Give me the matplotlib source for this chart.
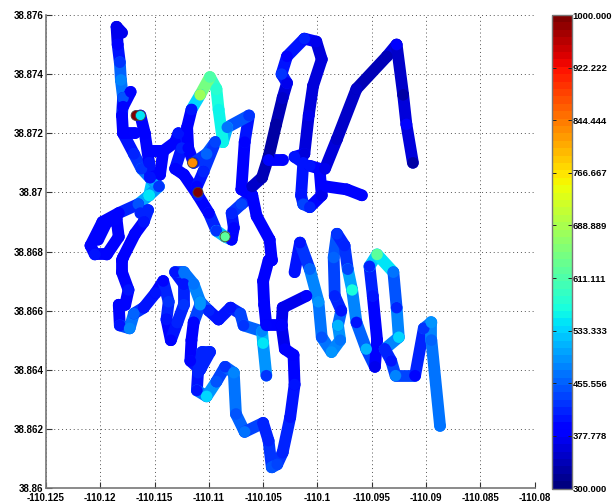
import matplotlib
matplotlib.use('Agg')
import matplotlib.pyplot as plt
from matplotlib.collections import LineCollection
from matplotlib.cm import ScalarMappable
from matplotlib.colors import Normalize
import numpy as np

plt.rcParams['font.family'] = ['Liberation Sans', 'DejaVu Sans']

# route from the top left, round the loop and down to the south branch
lon1 = [-110.1180, -110.1185, -110.1184, -110.1182, -110.1181, -110.1179, -110.1180, -110.1179, -110.1169, -110.1162, -110.1152, -110.1155, -110.1165, -110.1183, -110.1198, -110.1209, -110.1205, -110.1194, -110.1183, -110.1185, -110.1194, -110.1202]
lat1 = [38.8754, 38.8756, 38.8750, 38.8744, 38.8738, 38.8732, 38.8726, 38.8720, 38.8713, 38.8708, 38.8704, 38.8699, 38.8696, 38.8693, 38.8690, 38.8682, 38.8679, 38.8679, 38.8685, 38.8691, 38.8690, 38.8684]
val1 = [370, 370, 380, 430, 480, 450, 380, 380, 420, 430, 500, 545, 450, 390, 390, 390, 400, 390, 380, 390, 390, 390]

lon2 = [-110.1163, -110.1156, -110.1160, -110.1168, -110.1179, -110.1180, -110.1180, -110.1174, -110.1177, -110.1183, -110.1182, -110.1173, -110.1169, -110.1160, -110.1149, -110.1142, -110.1137, -110.1139, -110.1135, -110.1129, -110.1123, -110.1123, -110.1131, -110.1123, -110.1114, -110.1108, -110.1100, -110.1091, -110.1080, -110.1071, -110.1068, -110.1051, -110.1050, -110.1047]
lat2 = [38.8693, 38.8694, 38.8690, 38.8686, 38.8678, 38.8677, 38.8673, 38.8667, 38.8662, 38.8662, 38.8655, 38.8654, 38.8659, 38.8661, 38.8666, 38.8670, 38.8663, 38.8657, 38.8650, 38.8656, 38.8662, 38.8669, 38.8673, 38.8673, 38.8669, 38.8663, 38.8660, 38.8657, 38.8661, 38.8659, 38.8655, 38.8653, 38.8649, 38.8638]
val2 = [420, 420, 400, 390, 380, 380, 380, 400, 390, 390, 400, 480, 460, 400, 400, 390, 430, 400, 390, 410, 430, 400, 400, 470, 470, 490, 410, 400, 400, 440, 430, 480, 545, 430]

# middle section going to the bottom and back up to the east
lon3 = [-110.1108, -110.1114, -110.1116, -110.1117, -110.1108, -110.1099, -110.1106, -110.1110, -110.1111, -110.1102, -110.1093, -110.1085, -110.1077, -110.1075, -110.1067, -110.1050, -110.1045, -110.1042, -110.1037, -110.1032, -110.1025, -110.1021, -110.1022, -110.1030, -110.1033, -110.1032, -110.1010]
lat3 = [38.8662, 38.8656, 38.8650, 38.8643, 38.8640, 38.8646, 38.8646, 38.8639, 38.8633, 38.8631, 38.8636, 38.8641, 38.8639, 38.8625, 38.8619, 38.8622, 38.8616, 38.8607, 38.8608, 38.8612, 38.8624, 38.8635, 38.8645, 38.8647, 38.8655, 38.8661, 38.8665]
val3 = [490, 390, 380, 390, 410, 420, 420, 410, 400, 540, 450, 430, 480, 450, 470, 410, 410, 450, 440, 420, 400, 400, 380, 380, 370, 370, 380]

lon4 = [-110.1021, -110.1016, -110.1007, -110.0999, -110.0996, -110.0987, -110.0979, -110.0981, -110.0978, -110.0984, -110.0985, -110.0982, -110.0975, -110.0972, -110.0968, -110.0964, -110.0955, -110.0947, -110.0945, -110.0949, -110.0952, -110.0945, -110.0930, -110.0927, -110.0925, -110.0938, -110.0932, -110.0928, -110.0910, -110.0902, -110.0895, -110.0895, -110.0887]
lat4 = [38.8673, 38.8683, 38.8674, 38.8663, 38.8651, 38.8646, 38.8650, 38.8655, 38.8660, 38.8665, 38.8678, 38.8686, 38.8682, 38.8674, 38.8667, 38.8656, 38.8647, 38.8641, 38.8650, 38.8665, 38.8675, 38.8679, 38.8673, 38.8661, 38.8651, 38.8647, 38.8643, 38.8638, 38.8638, 38.8654, 38.8656, 38.8650, 38.8621]
val4 = [400, 400, 460, 490, 450, 490, 470, 510, 400, 420, 460, 430, 410, 440, 570, 400, 510, 370, 390, 400, 420, 620, 470, 420, 540, 420, 400, 480, 390, 430, 490, 460, 470]

# centre knot, the spike with the green top
lon5 = [-110.1159, -110.1155, -110.1154, -110.1145, -110.1142, -110.1155, -110.1142, -110.1131, -110.1128, -110.1125, -110.1131, -110.1123, -110.1110, -110.1100, -110.1093, -110.1085, -110.1079, -110.1077, -110.1079, -110.1070, -110.1060, -110.1070, -110.1067, -110.1063, -110.1083, -110.1087, -110.1091, -110.1093, -110.1099, -110.1108, -110.1116, -110.1120, -110.1119, -110.1114, -110.1102, -110.1094, -110.1105, -110.1111]
lat5 = [38.8720, 38.8710, 38.8705, 38.8706, 38.8714, 38.8714, 38.8714, 38.8717, 38.8720, 38.8715, 38.8708, 38.8706, 38.8699, 38.8693, 38.8687, 38.8685, 38.8684, 38.8688, 38.8693, 38.8696, 38.8699, 38.8701, 38.8717, 38.8726, 38.8722, 38.8717, 38.8728, 38.8735, 38.8739, 38.8733, 38.8728, 38.8722, 38.8715, 38.8710, 38.8713, 38.8717, 38.8707, 38.8702]
val5 = [380, 400, 400, 390, 390, 390, 390, 390, 400, 410, 390, 390, 400, 390, 430, 620, 390, 390, 420, 440, 390, 380, 380, 430, 470, 555, 560, 580, 610, 680, 400, 380, 390, 400, 460, 440, 410, 390]

lon6 = [-110.1060, -110.1056, -110.1044, -110.1042, -110.1045, -110.1050, -110.1049, -110.1047, -110.1033]
lat6 = [38.8699, 38.8692, 38.8684, 38.8677, 38.8677, 38.8670, 38.8662, 38.8655, 38.8655]
val6 = [390, 380, 380, 380, 380, 380, 390, 390, 380]

# north east loops
lon7 = [-110.1060, -110.1051, -110.1045, -110.1038, -110.1032, -110.1028, -110.1033, -110.1028, -110.1012, -110.1001, -110.0996, -110.1004, -110.1008, -110.1012, -110.1021, -110.1013, -110.1015, -110.1013, -110.1007, -110.0996, -110.0998, -110.1007]
lat7 = [38.8702, 38.8705, 38.8712, 38.8723, 38.8732, 38.8737, 38.8740, 38.8746, 38.8752, 38.8751, 38.8745, 38.8736, 38.8726, 38.8713, 38.8712, 38.8710, 38.8699, 38.8696, 38.8695, 38.8699, 38.8708, 38.8709]
val7 = [350, 340, 330, 330, 350, 370, 430, 380, 420, 370, 360, 360, 370, 360, 400, 400, 400, 440, 420, 370, 390, 400]

lon8 = [-110.0993, -110.0982, -110.0964, -110.0936, -110.0927, -110.0921, -110.0918, -110.0912]
lat8 = [38.8708, 38.8718, 38.8735, 38.8746, 38.8750, 38.8733, 38.8723, 38.8710]
val8 = [370, 350, 350, 335, 380, 325, 385, 325]

lon9 = [-110.0992, -110.0973, -110.0959]
lat9 = [38.8702, 38.8701, 38.8699]
val9 = [380, 390, 390]

lon10 = [-110.1045, -110.1032]
lat10 = [38.8711, 38.8711]
val10 = [390, 390]

lon11 = [-110.1172, -110.1179]
lat11 = [38.8734, 38.8729]
val11 = [390, 390]

lon12 = [-110.1179, -110.1168]
lat12 = [38.8720, 38.8720]
val12 = [380, 390]

lon13 = [-110.1154, -110.1146, -110.1155]
lat13 = [38.8705, 38.8702, 38.8699]
val13 = [400, 430, 545]

lon14 = [-110.1163, -110.1159]
lat14 = [38.8726, 38.8720]
val14 = [390, 380]

lons = [lon1, lon2, lon3, lon4, lon5, lon6, lon7, lon8, lon9, lon10, lon11, lon12, lon13, lon14]
lats = [lat1, lat2, lat3, lat4, lat5, lat6, lat7, lat8, lat9, lat10, lat11, lat12, lat13, lat14]
vals = [val1, val2, val3, val4, val5, val6, val7, val8, val9, val10, val11, val12, val13, val14]

# the few big readings sitting on top of the track
spot_lon = [-110.1167, -110.1163, -110.1115, -110.1110, -110.1085]
spot_lat = [38.8726, 38.8726, 38.8710, 38.8700, 38.8685]
spot_val = [1000, 545, 830, 990, 625]

xticks = [-110.125, -110.12, -110.115, -110.11, -110.105, -110.1, -110.095, -110.09, -110.085, -110.08]
xlabels = ['-110.125', '-110.12', '-110.115', '-110.11', '-110.105', '-110.1', '-110.095', '-110.09', '-110.085', '-110.08']
yticks = [38.86, 38.862, 38.864, 38.866, 38.868, 38.87, 38.872, 38.874, 38.876]
ylabels = ['38.86', '38.862', '38.864', '38.866', '38.868', '38.87', '38.872', '38.874', '38.876']
cticks = [300, 377.778, 455.556, 533.333, 611.111, 688.889, 766.667, 844.444, 922.222, 1000]

W, H = 613, 503
fig = plt.figure(figsize=(W / 100, H / 100), dpi=100)
ax = fig.add_axes([46 / W, (H - 488) / H, 488.5 / W, 473 / H])
cax = fig.add_axes([552 / W, (H - 488.5) / H, 20 / W, 473.5 / H])

cmap = plt.get_cmap('jet', 64)
norm = Normalize(300, 1000)

for xs, ys, vs in zip(lons, lats, vals):
    pts = np.column_stack([xs, ys])
    vs = np.array(vs, dtype=float)
    segs = np.stack([pts[:-1], pts[1:]], axis=1)
    lc = LineCollection(segs, cmap=cmap, norm=norm, linewidths=8.5, capstyle='round', joinstyle='round', zorder=3)
    lc.set_array((vs[:-1] + vs[1:]) / 2)
    ax.add_collection(lc)
    ax.scatter(xs, ys, c=vs, cmap=cmap, norm=norm, s=68, linewidths=0, zorder=4)

ax.scatter(spot_lon, spot_lat, c=spot_val, cmap=cmap, norm=norm, s=52, linewidths=0.6, edgecolors='#444444', zorder=5)

ax.set_xlim(-110.125, -110.08)
ax.set_ylim(38.86, 38.876)
ax.set_xticks(xticks)
ax.set_xticklabels(xlabels, fontsize=7, fontweight='bold')
ax.set_yticks(yticks)
ax.set_yticklabels(ylabels, fontsize=7, fontweight='bold')
ax.tick_params(direction='in', length=4, width=0.8, color='#333333', pad=2)
ax.tick_params(axis='x', pad=3.5)
ax.grid(True, linestyle=(0, (1, 3)), color='#555555', linewidth=0.7)
ax.set_axisbelow(True)
ax.spines['top'].set_visible(False)
ax.spines['right'].set_visible(False)
ax.spines['left'].set_color('#777777')
ax.spines['bottom'].set_color('#777777')
ax.spines['left'].set_linewidth(1.2)
ax.spines['bottom'].set_linewidth(1.2)

cb = fig.colorbar(ScalarMappable(norm=norm, cmap=cmap), cax=cax, ticks=cticks, format='%.3f')
cb.ax.tick_params(direction='in', length=3, width=0.7, color='#222222', pad=0.5, labelsize=6.8, left=True, right=True)
for t in cb.ax.get_yticklabels():
    t.set_fontweight('bold')
cb.outline.set_edgecolor('#777777')
cb.outline.set_linewidth(1)

fig.savefig('out.png', dpi=100)
